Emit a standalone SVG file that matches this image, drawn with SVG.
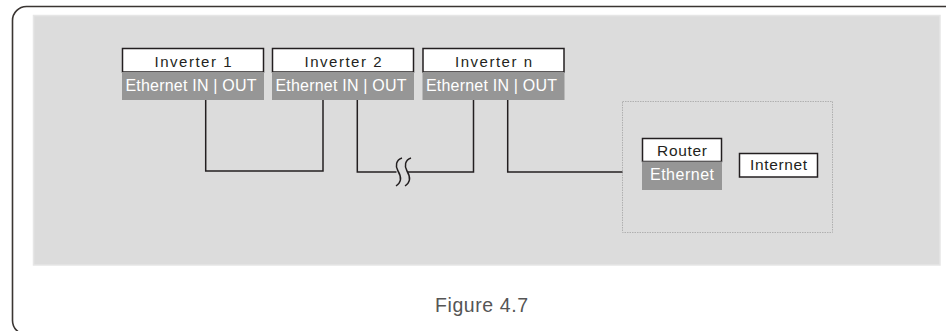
<svg xmlns="http://www.w3.org/2000/svg" width="946" height="331" viewBox="0 0 946 331">
<style>
.frame{fill:#ffffff;stroke:#3a3532;stroke-width:1.6}
.panel{fill:#dcdcdc;stroke:#e6e6e6;stroke-width:1.5}
.title{fill:#ffffff;stroke:#231f20;stroke-width:1.5}
.port{fill:#969696}
.t{font-family:"Liberation Sans",Arial,sans-serif;fill:#231f20}
.w{font-family:"Liberation Sans",Arial,sans-serif;fill:#ffffff}
.wire{fill:none;stroke:#231f20;stroke-width:1.5}
.zone{fill:none;stroke:#b0b0b0;stroke-width:1;stroke-dasharray:1.5 1}
.cap{font-family:"Liberation Sans",Arial,sans-serif;fill:#555555;font-size:19.5px}
</style>
<rect class="frame" x="12.5" y="6.5" width="960" height="328" rx="14"/>
<rect class="panel" x="33.5" y="15.5" width="906.5" height="249.5"/>
<rect id="network-zone" class="zone" x="622.5" y="101.5" width="210" height="131"/>
<g id="connectors">
<path class="wire" d="M205.7,100 V171 H323 V100"/>
<path class="wire" d="M357.3,100 V172 H396.5"/>
<path class="wire" d="M402,158 C396,160 395,166 398,171 C401,176 402,182 396,186"/>
<path class="wire" d="M411,158 C405,160 404,166 407,171 C410,176 411,182 405,186"/>
<path class="wire" d="M407.5,172 H473.5 V100"/>
<path class="wire" d="M507.7,100 V172 H622.5"/>
</g>
<g id="inverter-1">
<rect class="title" x="122.5" y="48.5" width="141" height="23.5"/>
<rect class="port" x="122" y="72" width="142" height="28"/>
<text class="t" x="193" y="67" font-size="15" text-anchor="middle" textLength="77" lengthAdjust="spacing">Inverter  1</text>
<text class="w" x="191" y="90.5" font-size="16" text-anchor="middle" textLength="131" lengthAdjust="spacing">Ethernet IN | OUT</text>
</g>
<g id="inverter-2">
<rect class="title" x="272.5" y="48.5" width="141" height="23.5"/>
<rect class="port" x="272" y="72" width="142" height="28"/>
<text class="t" x="343" y="67" font-size="15" text-anchor="middle" textLength="77" lengthAdjust="spacing">Inverter  2</text>
<text class="w" x="341" y="90.5" font-size="16" text-anchor="middle" textLength="131" lengthAdjust="spacing">Ethernet IN | OUT</text>
</g>
<g id="inverter-n">
<rect class="title" x="423" y="48.5" width="141" height="23.5"/>
<rect class="port" x="422.5" y="72" width="142" height="28"/>
<text class="t" x="493.5" y="67" font-size="15" text-anchor="middle" textLength="77" lengthAdjust="spacing">Inverter  n</text>
<text class="w" x="491.5" y="90.5" font-size="16" text-anchor="middle" textLength="131" lengthAdjust="spacing">Ethernet IN | OUT</text>
</g>
<g id="router">
<rect class="title" x="642.5" y="138.5" width="79" height="23"/>
<rect class="port" x="642" y="161.5" width="80" height="28.5"/>
<text class="t" x="682" y="156" font-size="15.5" text-anchor="middle" textLength="50" lengthAdjust="spacing">Router</text>
<text class="w" x="682" y="180" font-size="16" text-anchor="middle" textLength="64" lengthAdjust="spacing">Ethernet</text>
</g>
<g id="internet">
<rect class="title" x="739.5" y="153.5" width="78" height="23.5"/>
<text class="t" x="778.5" y="170" font-size="15.5" text-anchor="middle" textLength="57" lengthAdjust="spacing">Internet</text>
</g>
<text class="cap" x="481.5" y="312" text-anchor="middle" textLength="93" lengthAdjust="spacing">Figure 4.7</text>
</svg>
